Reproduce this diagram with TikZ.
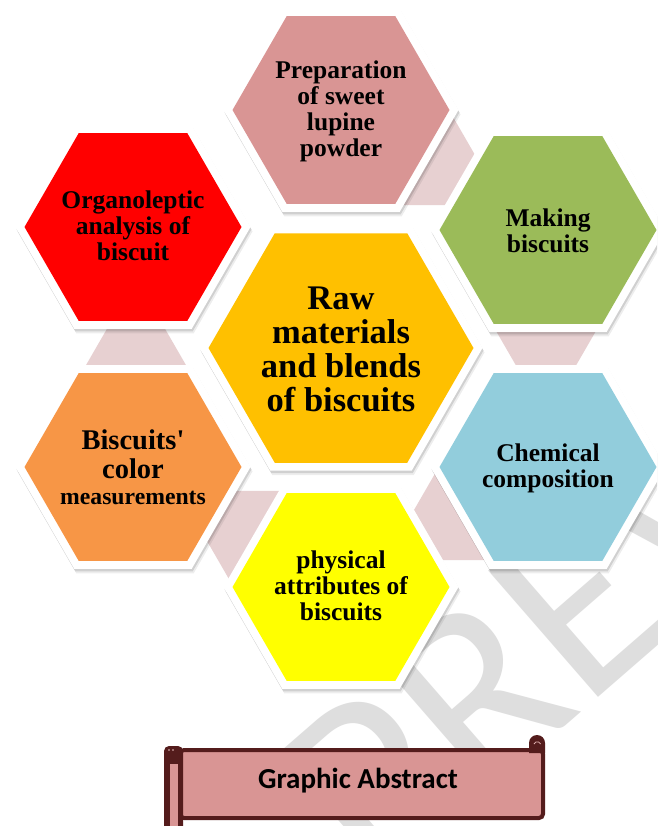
\documentclass[tikz,border=0pt]{standalone}
\usepackage{fontspec}
\setmainfont{Liberation Serif}
\newfontfamily\carlito{Carlito}
\definecolor{hexpink}{RGB}{217,149,148}
\definecolor{hexred}{RGB}{255,0,0}
\definecolor{hexgreen}{RGB}{155,187,89}
\definecolor{hexgold}{RGB}{255,192,0}
\definecolor{hexorange}{RGB}{247,150,70}
\definecolor{hexblue}{RGB}{146,205,220}
\definecolor{hexyellow}{RGB}{255,255,0}
\definecolor{linkpink}{RGB}{231,208,209}
\definecolor{wmgray}{RGB}{222,222,222}
\definecolor{scrollbrown}{RGB}{84,28,28}
\newcommand\hexfill[4]{\fill[#4] ([shift={(#1,#2)}]0:#3) -- ([shift={(#1,#2)}]60:#3) -- ([shift={(#1,#2)}]120:#3) -- ([shift={(#1,#2)}]180:#3) -- ([shift={(#1,#2)}]240:#3) -- ([shift={(#1,#2)}]300:#3) -- cycle;}
\newcommand\cellhex[4]{%
  \hexfill{#1+2}{#2+4.5}{#3+9}{black,opacity=.07}%
  \hexfill{#1+1}{#2+2.5}{#3+9}{black,opacity=.12}%
  \hexfill{#1}{#2}{#3+9}{white}%
  \hexfill{#1}{#2}{#3}{#4}}
\begin{document}
\begin{tikzpicture}[x=1pt,y=-1pt,
  hextext/.style={font=\bfseries\fontsize{25.5}{26}\selectfont, align=center, inner sep=0pt, text=black},
  wm/.style={font=\carlito\fontsize{261}{261}\selectfont, text=wmgray, inner sep=0pt, rotate=41},
  scrollline/.style={draw=scrollbrown, line width=4pt}]
\useasboundingbox (0,0) rectangle (657,826);
\fill[white] (0,0) rectangle (657,826);
\begin{scope}
\clip (0,0) rectangle (657,826);
% watermark
\coordinate (wmo) at (477,803);
\node[wm, anchor=base west] (wmb) at (wmo) {REVIEW};
\node[wm, anchor=base east] (wma) at (wmo) {P};
% small linking hexagons
\hexfill{417}{155}{58}{linkpink}
\hexfill{546}{317}{58}{linkpink}
\hexfill{472}{510}{58}{linkpink}
\hexfill{265}{541}{58}{linkpink}
\hexfill{136}{379}{58}{linkpink}
% main hexagons
\cellhex{341}{110}{108.5}{hexpink}
\cellhex{133}{227}{108.5}{hexred}
\cellhex{548}{230}{108.5}{hexgreen}
\cellhex{133}{467}{108.5}{hexorange}
\cellhex{548}{467}{108.5}{hexblue}
\cellhex{341}{587}{108.5}{hexyellow}
\cellhex{341}{348}{132.5}{hexgold}
% texts
\node[hextext] (prep) at (341,111) {Preparation\\of sweet\\lupine\\powder};
\node[hextext] (organo) at (133,226) {Organoleptic\\analysis of\\biscuit};
\node[hextext] (making) at (548,231) {Making\\biscuits};
\node[hextext, font=\bfseries\fontsize{34.5}{34}\selectfont] (raw) at (341,349) {Raw\\materials\\and blends\\of biscuits};
\node[hextext, font=\bfseries\fontsize{28.5}{26}\selectfont] (colour) at (133,467) {Biscuits\textquotesingle\\[3pt]color\\{\fontsize{23.7}{26}\selectfont measurements}};
\node[hextext] (chem) at (548,468) {Chemical\\composition};
\node[hextext] (phys) at (341,586) {physical\\attributes of\\biscuits};
% scroll banner
\draw[scrollline, fill=hexpink, rounded corners=4pt] (180,750) rectangle (543,818);
\fill[scrollbrown] (529,753) -- (529,743) arc[start angle=180, end angle=360, radius=8] -- (545,753) -- cycle;
\draw[hexpink!70!white, line width=0.8pt] (534,744) arc[start angle=200, end angle=340, radius=3.5];
\fill[scrollbrown, rounded corners=5pt] (164,840) rectangle (183,746);
\fill[hexpink] (169.5,764) rectangle (177.5,840);
\fill[hexpink!60!white] (169,750) circle[radius=0.8] (173,750) circle[radius=0.8];
\node[font=\carlito\bfseries\fontsize{29}{29}\selectfont, inner sep=0pt] (gabs) at (358,781) {Graphic Abstract};
\end{scope}
\end{tikzpicture}
\end{document}
